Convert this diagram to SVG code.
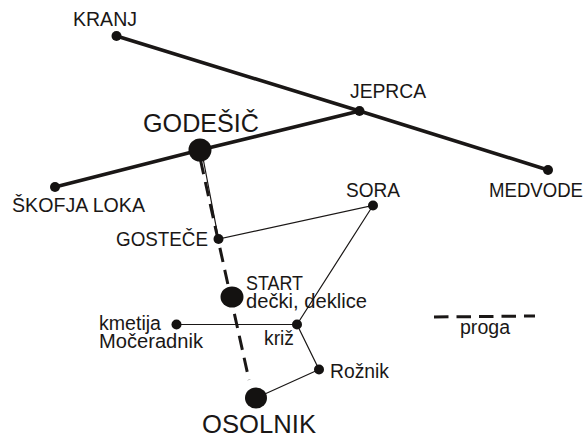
<svg xmlns="http://www.w3.org/2000/svg" width="584" height="435" viewBox="0 0 584 435">
<style>
text{font-family:"Liberation Sans",Arial,sans-serif;font-size:19.500px;fill:#1a1716}
.big{font-size:25px}
.r{stroke:#1a1716;stroke-width:3.6;fill:none}
.t{stroke:#1a1716;stroke-width:1.2;fill:none}
.d{stroke:#1a1716;stroke-width:3;fill:none;stroke-dasharray:14.5 8}
circle,ellipse{fill:#141211}
</style>
<rect width="584" height="435" fill="#fff"/>
<g id="connectors">
<path class="r" d="M116.500 36L359.500 111L548 170"/>
<path class="r" d="M55 187L200 150L359.500 111"/>
<path class="t" d="M203 158L218.500 239L373 205.500L297 324.500L319 369.500L256 398"/>
<path class="t" d="M176.500 324.500L297 324.500"/>
<path class="d" d="M200.500 160L249 380"/>
<path class="d" d="M434 317L535 316"/>
</g>
<g id="kranj"><circle cx="116.500" cy="36" r="5"/><text x="73" y="26" textLength="64" lengthAdjust="spacingAndGlyphs">KRANJ</text></g>
<g id="jeprca"><circle cx="359.500" cy="111" r="5"/><text x="350" y="98" textLength="76" lengthAdjust="spacingAndGlyphs">JEPRCA</text></g>
<g id="medvode"><circle cx="548" cy="170" r="5"/><text x="489" y="197" textLength="94" lengthAdjust="spacingAndGlyphs">MEDVODE</text></g>
<g id="godesic"><circle cx="200" cy="150" r="11.500"/><text class="big" x="143" y="132" textLength="116" lengthAdjust="spacingAndGlyphs">GODEŠIČ</text></g>
<g id="skofja"><circle cx="55" cy="187" r="5"/><text x="12" y="212" textLength="133" lengthAdjust="spacingAndGlyphs">ŠKOFJA LOKA</text></g>
<g id="sora"><circle cx="373" cy="205.500" r="5"/><text x="346" y="197" textLength="54" lengthAdjust="spacingAndGlyphs">SORA</text></g>
<g id="gostece"><circle cx="218.500" cy="239" r="5"/><text x="116" y="246" textLength="92" lengthAdjust="spacingAndGlyphs">GOSTEČE</text></g>
<g id="start"><ellipse cx="232" cy="297" rx="11.500" ry="10.500"/><text x="246" y="290" textLength="57" lengthAdjust="spacingAndGlyphs">START</text><text x="246" y="308" textLength="121" lengthAdjust="spacingAndGlyphs">dečki, deklice</text></g>
<g id="kmetija"><circle cx="176.500" cy="324.500" r="5"/><text x="99" y="330" textLength="62" lengthAdjust="spacingAndGlyphs">kmetija</text><text x="99" y="348" textLength="104" lengthAdjust="spacingAndGlyphs">Močeradnik</text></g>
<g id="kriz"><circle cx="297" cy="324.500" r="5"/><text x="264" y="345" textLength="30" lengthAdjust="spacingAndGlyphs">križ</text></g>
<g id="roznik"><circle cx="319" cy="369.500" r="5"/><text x="330" y="378" textLength="59" lengthAdjust="spacingAndGlyphs">Rožnik</text></g>
<g id="osolnik"><ellipse cx="256" cy="398" rx="11" ry="10.500"/><text class="big" x="202" y="433" textLength="114" lengthAdjust="spacingAndGlyphs">OSOLNIK</text></g>
<g id="legend"><text x="460" y="334" textLength="50" lengthAdjust="spacingAndGlyphs">proga</text></g>
</svg>
